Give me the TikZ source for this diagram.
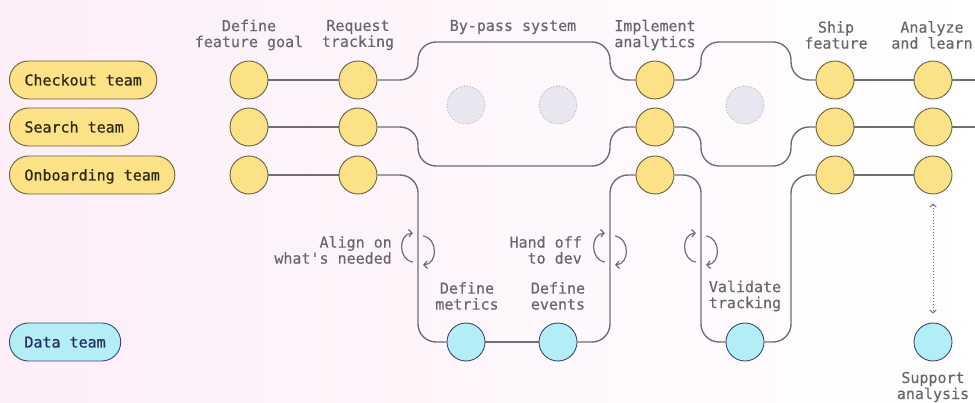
\documentclass[tikz,border=0pt]{standalone}
\usepackage{fontspec}
\setmonofont{DejaVu Sans Mono}
\newfontfamily\pillfont[FakeBold=0.8]{DejaVu Sans Mono}
\newfontfamily\labelfont[FakeBold=0.25]{DejaVu Sans Mono}
\usetikzlibrary{arrows.meta}

\definecolor{bgpink}{HTML}{FDEEF8}
\definecolor{wire}{HTML}{6E6E78}
\definecolor{labelgray}{HTML}{66666E}
\definecolor{teamfill}{HTML}{FCE286}
\definecolor{teamline}{HTML}{6A5F3E}
\definecolor{teamtext}{HTML}{2E2B1E}
\definecolor{datafill}{HTML}{B3EEF6}
\definecolor{dataline}{HTML}{3A4878}
\definecolor{datatext}{HTML}{26305A}
\definecolor{ghostfill}{HTML}{E8E6EE}
\definecolor{ghostline}{HTML}{A8A8B0}

\tikzset{
  txt/.style={font=\labelfont\fontsize{15}{16}\selectfont},
  hdr/.style={txt, text=labelgray, align=center, inner sep=0pt},
  note/.style={txt, text=labelgray, align=right, inner sep=0pt, anchor=east},
  pill/.style={font=\pillfont\fontsize{15}{16}\selectfont, anchor=west,
    draw=teamline, fill=teamfill, text=teamtext,
    line width=0.9pt, rounded corners=19pt, minimum height=38pt,
    inner xsep=15pt, text height=11pt, text depth=0pt},
  datapill/.style={pill, draw=dataline, fill=datafill, text=datatext},
  stepdot/.style={circle, draw=teamline, fill=teamfill, line width=0.9pt,
    minimum size=38pt, inner sep=0pt},
  datadot/.style={stepdot, draw=dataline, fill=datafill},
  ghost/.style={circle, draw=ghostline, fill=ghostfill, dotted, line width=0.8pt,
    minimum size=38pt, inner sep=0pt},
  flow/.style={draw=wire, line width=1.4pt, rounded corners=18pt},
  cyc/.style={draw=wire, line width=1.2pt,
    -{Straight Barb[length=3.5pt,width=7.5pt]}},
  cycleicon/.pic={
    \draw[cyc] (-5,15) .. controls (-20,13) and (-20,-13) .. (-5,-14);
    \draw[cyc] (5,-11) .. controls (20,-9) and (20,17) .. (5,18);
  }
}

\begin{document}
\begin{tikzpicture}[x=1pt,y=-1pt]
  % background
  \useasboundingbox (0,0) rectangle (975,403);
  \shade[left color=bgpink, right color=white] (0,0) rectangle (975,403);

  % team pills
  \node[pill] (checkout) at (9,80) {Checkout team};
  \node[pill] (search) at (9,127) {Search team};
  \node[pill] (onboard) at (9,175) {Onboarding team};
  \node[datapill] (data) at (9,342) {Data team};

  % column headings
  \node[hdr] (h1) at (249,35) {Define\\feature goal};
  \node[hdr] (h2) at (358,35) {Request\\tracking};
  \node[hdr] (h3) at (513,27) {By-pass system};
  \node[hdr] (h4) at (655,35) {Implement\\analytics};
  \node[hdr] (h5) at (836,35) {Ship\\feature};
  \node[hdr] (h6) at (932,35) {Analyze\\and learn};

  % free ends at the right edge
  \coordinate (end1) at (975,80);
  \coordinate (end2) at (975,127);

  % step circles
  \foreach \r/\y in {1/80, 2/127, 3/175} {
    \node[stepdot] (fg\r) at (249,\y) {};
    \node[stepdot] (rt\r) at (358,\y) {};
    \node[stepdot] (ia\r) at (655,\y) {};
    \node[stepdot] (sf\r) at (835,\y) {};
    \node[stepdot] (al\r) at (933,\y) {};
  }
  \node[datadot] (dm) at (466,342) {};
  \node[datadot] (de) at (558,342) {};
  \node[datadot] (vt) at (745,342) {};
  \node[datadot] (sa) at (933,342) {};

  % skipped steps
  \node[ghost] (g1) at (466,105) {};
  \node[ghost] (g2) at (558,105) {};
  \node[ghost] (g3) at (745,105) {};

  % straight links
  \foreach \r in {1,2,3} {
    \draw[flow] (fg\r) -- (rt\r);
    \draw[flow] (sf\r) -- (al\r);
  }
  \draw[flow] (al1) -- (end1);
  \draw[flow] (al2) -- (end2);

  % by-pass loops
  \draw[flow] (rt1.east) -- (418,80) -- (418,42) -- (610,42) -- (610,80) -- (ia1.west);
  \draw[flow] (rt2.east) -- (418,127) -- (418,166) -- (610,166) -- (610,127) -- (ia2.west);
  \draw[flow] (ia1.east) -- (701,80) -- (701,42) -- (791,42) -- (791,80) -- (sf1.west);
  \draw[flow] (ia2.east) -- (701,127) -- (701,166) -- (791,166) -- (791,127) -- (sf2.west);

  % onboarding route through the data team
  \draw[flow] (rt3.east) -- (418,175) -- (418,342) -- (dm.west);
  \draw[flow] (dm) -- (de);
  \draw[flow] (de.east) -- (610,342) -- (610,175) -- (ia3.west);
  \draw[flow] (ia3.east) -- (701,175) -- (701,342) -- (vt.west);
  \draw[flow] (vt.east) -- (791,342) -- (791,175) -- (sf3.west);

  % support link
  \draw[draw=wire, line width=1pt, dotted, shorten <=9pt, shorten >=9pt,
    {Straight Barb[length=3pt,width=6.5pt]}-{Straight Barb[length=3pt,width=6.5pt]}]
    (al3) -- (sa);

  % iteration icons
  \pic at (418,247) {cycleicon};
  \pic at (610,247) {cycleicon};
  \pic at (701,247) {cycleicon};

  % notes
  \node[note] (n1) at (392,250) {Align on\\what's needed};
  \node[note] (n2) at (582,250) {Hand off\\to dev};
  \node[hdr] (d1) at (467,296) {Define\\metrics};
  \node[hdr] (d2) at (558,296) {Define\\events};
  \node[hdr] (d3) at (745,296) {Validate\\tracking};
  \node[hdr] (d4) at (933,387) {Support\\analysis};
\end{tikzpicture}
\end{document}
